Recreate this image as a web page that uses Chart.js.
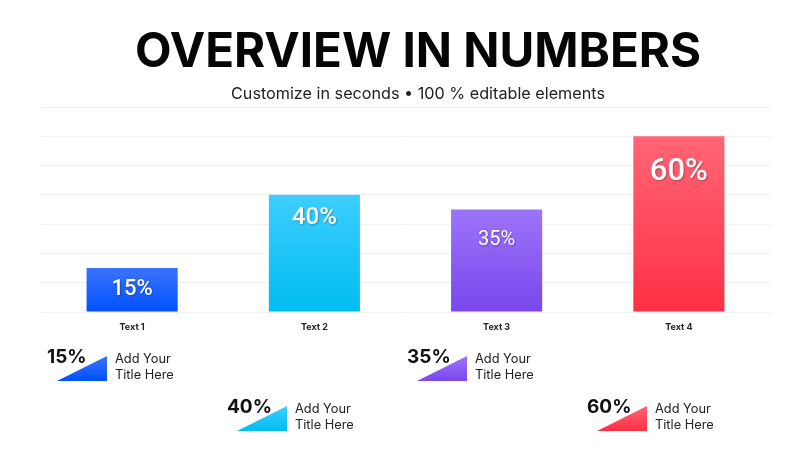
<!DOCTYPE html>
<html>
<head>
<meta charset="utf-8">
<script src="https://cdn.jsdelivr.net/npm/chart.js@4.4.1/dist/chart.umd.min.js"></script>
<style>
  html, body { margin: 0; padding: 0; background: #fff; }
  #wrap { position: relative; width: 800px; height: 450px; overflow: hidden; font-family: Inter, 'Noto Sans', sans-serif; }
  #chart { position: absolute; left: 0; top: 0; }
  .title { position: absolute; left: 18px; width: 800px; text-align: center; top: 22px; font-size: 47.5px; font-weight: 700; color: #050505; line-height: 56px; }
  .subtitle { position: absolute; left: 18px; width: 800px; text-align: center; top: 82px; font-size: 16.2px; color: #222; line-height: 22px; }
  .item { position: absolute; width: 170px; height: 36px; }
  .item .pct { position: absolute; left: 0; top: -6px; font-size: 19px; font-weight: 700; color: #111; line-height: 24px; }
  .item .tri { position: absolute; left: 10px; top: 5px; width: 50px; height: 25px; clip-path: polygon(0 100%, 100% 0, 100% 100%); }
  .item .txt { position: absolute; left: 68px; top: 0px; font-size: 12.8px; line-height: 16px; color: #222; white-space: pre; }
</style>
</head>
<body>
<div id="wrap">
  <canvas id="chart" width="800" height="450"></canvas>
  <div class="title">OVERVIEW IN NUMBERS</div>
  <div class="subtitle">Customize in seconds • 100 % editable elements</div>
  <div id="items"></div>
</div>
<script>
// chart data
const categories = ['Text 1', 'Text 2', 'Text 3', 'Text 4'];
const shares = [15, 40, 35, 60];
const yMax = 70;
const yStep = 10;
const itemTitles = ['Add Your\nTitle Here', 'Add Your\nTitle Here', 'Add Your\nTitle Here', 'Add Your\nTitle Here'];

// look
const topColors = ['#3a74fb', '#3dcefd', '#9c74fa', '#ff6676'];
const bottomColors = ['#0050ff', '#00bdf1', '#7947ec', '#ff3045'];
const labelSizes = [22, 24, 20, 31];
const labelWeights = [500, 500, 400, 500];
const labelDrop = [21, 23, 30, 36];
const itemSpots = [[47, 351], [227, 401], [407, 351], [587, 401]];

function barGradient(ctx) {
  const chart = ctx.chart;
  const area = chart.chartArea;
  if (!area) return bottomColors[ctx.dataIndex];
  const top = chart.scales.y.getPixelForValue(shares[ctx.dataIndex]);
  const g = chart.ctx.createLinearGradient(0, top, 0, area.bottom);
  g.addColorStop(0, topColors[ctx.dataIndex]);
  g.addColorStop(1, bottomColors[ctx.dataIndex]);
  return g;
}

const barLabels = {
  id: 'barLabels',
  afterDatasetsDraw(chart) {
    const { ctx } = chart;
    const meta = chart.getDatasetMeta(0);
    ctx.save();
    ctx.textAlign = 'center';
    ctx.textBaseline = 'middle';
    ctx.fillStyle = '#fff';
    ctx.shadowColor = 'rgba(0,0,0,0.28)';
    ctx.shadowBlur = 2;
    ctx.shadowOffsetX = 1;
    ctx.shadowOffsetY = 1;
    meta.data.forEach((bar, i) => {
      ctx.font = labelWeights[i] + ' ' + labelSizes[i] + 'px Roboto';
      ctx.fillText(shares[i] + '%', bar.x, bar.y + labelDrop[i]);
    });
    ctx.restore();
  }
};

new Chart(document.getElementById('chart'), {
  type: 'bar',
  data: {
    labels: categories,
    datasets: [{
      data: shares,
      backgroundColor: barGradient,
      borderWidth: 0,
      barPercentage: 0.5,
      categoryPercentage: 1,
    }],
  },
  options: {
    responsive: false,
    animation: false,
    layout: { padding: { left: 41, right: 30, top: 107, bottom: 108 } },
    plugins: { legend: { display: false }, tooltip: { enabled: false } },
    scales: {
      x: {
        grid: { display: false },
        border: { display: false },
        ticks: { color: '#222', padding: 2, font: { family: 'Inter', size: 9, weight: 700 } },
        afterFit(scale) { scale.height = 30; },
      },
      y: {
        min: 0,
        max: yMax,
        ticks: { display: false, stepSize: yStep },
        grid: { color: '#f0f0f2', lineWidth: 1, drawTicks: false },
        border: { display: false },
        afterFit(scale) { scale.width = 0; },
      },
    },
  },
  plugins: [barLabels],
});

// little legend cards under the chart
const holder = document.getElementById('items');
shares.forEach((v, i) => {
  const el = document.createElement('div');
  el.className = 'item';
  el.style.left = itemSpots[i][0] + 'px';
  el.style.top = itemSpots[i][1] + 'px';
  el.innerHTML = '<div class="tri"></div><div class="pct"></div><div class="txt"></div>';
  el.querySelector('.pct').textContent = v + '%';
  el.querySelector('.txt').textContent = itemTitles[i];
  el.querySelector('.tri').style.background =
    'linear-gradient(to bottom, ' + topColors[i] + ', ' + bottomColors[i] + ')';
  holder.appendChild(el);
});
</script>
</body>
</html>
